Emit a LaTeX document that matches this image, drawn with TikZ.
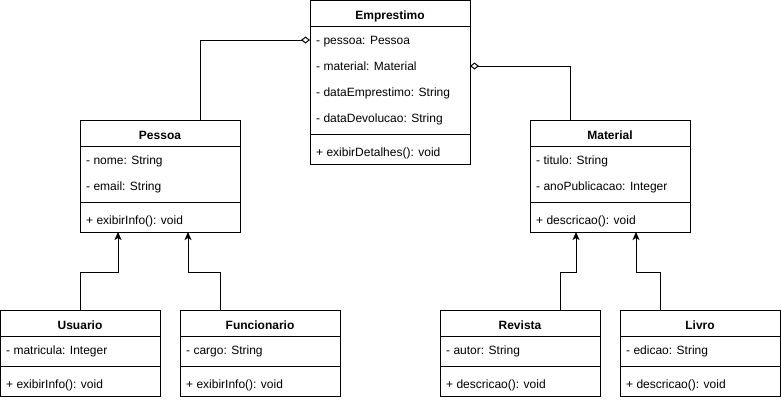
\documentclass[tikz,border=0pt]{standalone}
\usepackage{fontspec}
\setmainfont{Liberation Sans}
\usetikzlibrary{arrows.meta,calc}
\begin{document}
\begin{tikzpicture}[x=1pt,y=-1pt,
  box/.style={draw, line width=1pt, minimum width=160pt, inner sep=0pt, outer sep=0pt, anchor=north west},
  ttl/.style={font=\fontsize{12}{14}\selectfont\bfseries, inner sep=0pt, anchor=base},
  attr/.style={font=\fontsize{12}{14}\selectfont, inner sep=0pt, anchor=base west},
  sep/.style={line width=1pt},
  agg/.style={line width=1pt, {Diamond[open,length=9pt,width=7pt,line width=1pt]}-},
  inh/.style={line width=1pt, -{Stealth[length=8pt,width=7pt,inset=2pt]}}]
\useasboundingbox (0,0) rectangle (781,400);

% Emprestimo
\node[box, minimum height=164pt] (emp) at (310,0.5) {};
\node[ttl] (empT) at (390,19) {Emprestimo};
\draw[sep] ($(emp.north west)+(0,25.5)$) -- ($(emp.north east)+(0,25.5)$);
\node[attr] (empA1) at (316,44.5) {- pessoa: Pessoa};
\node[attr] (empA2) at (316,70.5) {- material: Material};
\node[attr] (empA3) at (316,96.5) {- dataEmprestimo: String};
\node[attr] (empA4) at (316,122.5) {- dataDevolucao: String};
\draw[sep] ($(emp.north west)+(0,133.5)$) -- ($(emp.north east)+(0,133.5)$);
\node[attr] (empM1) at (316,156.5) {+ exibirDetalhes(): void};

% Pessoa
\node[box, minimum height=112pt] (pes) at (80,120) {};
\node[ttl] (pesT) at (160,139) {Pessoa};
\draw[sep] ($(pes.north west)+(0,26)$) -- ($(pes.north east)+(0,26)$);
\node[attr] (pesA1) at (86,164.5) {- nome: String};
\node[attr] (pesA2) at (86,190.5) {- email: String};
\draw[sep] ($(pes.north west)+(0,82)$) -- ($(pes.north east)+(0,82)$);
\node[attr] (pesM1) at (86,224) {+ exibirInfo(): void};

% Material
\node[box, minimum height=112pt] (mat) at (530,120) {};
\node[ttl] (matT) at (610,139) {Material};
\draw[sep] ($(mat.north west)+(0,26)$) -- ($(mat.north east)+(0,26)$);
\node[attr] (matA1) at (536,164.5) {- titulo: String};
\node[attr] (matA2) at (536,190.5) {- anoPublicacao: Integer};
\draw[sep] ($(mat.north west)+(0,82)$) -- ($(mat.north east)+(0,82)$);
\node[attr] (matM1) at (536,224) {+ descricao(): void};

% Usuario
\node[box, minimum height=86pt] (usu) at (0,310) {};
\node[ttl] (usuT) at (80,329) {Usuario};
\draw[sep] ($(usu.north west)+(0,26)$) -- ($(usu.north east)+(0,26)$);
\node[attr] (usuA1) at (6,354.5) {- matricula: Integer};
\draw[sep] ($(usu.north west)+(0,56)$) -- ($(usu.north east)+(0,56)$);
\node[attr] (usuM1) at (6,388) {+ exibirInfo(): void};

% Funcionario
\node[box, minimum height=86pt] (fun) at (180,310) {};
\node[ttl] (funT) at (260,329) {Funcionario};
\draw[sep] ($(fun.north west)+(0,26)$) -- ($(fun.north east)+(0,26)$);
\node[attr] (funA1) at (186,354.5) {- cargo: String};
\draw[sep] ($(fun.north west)+(0,56)$) -- ($(fun.north east)+(0,56)$);
\node[attr] (funM1) at (186,388) {+ exibirInfo(): void};

% Revista
\node[box, minimum height=86pt] (rev) at (440,310) {};
\node[ttl] (revT) at (520,329) {Revista};
\draw[sep] ($(rev.north west)+(0,26)$) -- ($(rev.north east)+(0,26)$);
\node[attr] (revA1) at (446,354.5) {- autor: String};
\draw[sep] ($(rev.north west)+(0,56)$) -- ($(rev.north east)+(0,56)$);
\node[attr] (revM1) at (446,388) {+ descricao(): void};

% Livro
\node[box, minimum height=86pt] (liv) at (620,310) {};
\node[ttl] (livT) at (700,329) {Livro};
\draw[sep] ($(liv.north west)+(0,26)$) -- ($(liv.north east)+(0,26)$);
\node[attr] (livA1) at (626,354.5) {- edicao: String};
\draw[sep] ($(liv.north west)+(0,56)$) -- ($(liv.north east)+(0,56)$);
\node[attr] (livM1) at (626,388) {+ descricao(): void};

% Aggregations
\draw[agg] ($(emp.north west)+(0,39.5)$) -| ($(pes.north west)+(120,0)$);
\draw[agg] ($(emp.north east)+(0,65.5)$) -| ($(mat.north west)+(40,0)$);

% Inheritance
\draw[inh] (usu.north) -- ++(0,-38) -| ($(pes.south west)+(38,0)$);
\draw[inh] ($(fun.north west)+(40,0)$) -- ++(0,-38) -| ($(pes.south west)+(108,0)$);
\draw[inh] ($(rev.north west)+(120,0)$) -- ++(0,-38) -| ($(mat.south west)+(46,0)$);
\draw[inh] ($(liv.north west)+(40,0)$) -- ++(0,-38) -| ($(mat.south west)+(106,0)$);
\end{tikzpicture}
\end{document}
